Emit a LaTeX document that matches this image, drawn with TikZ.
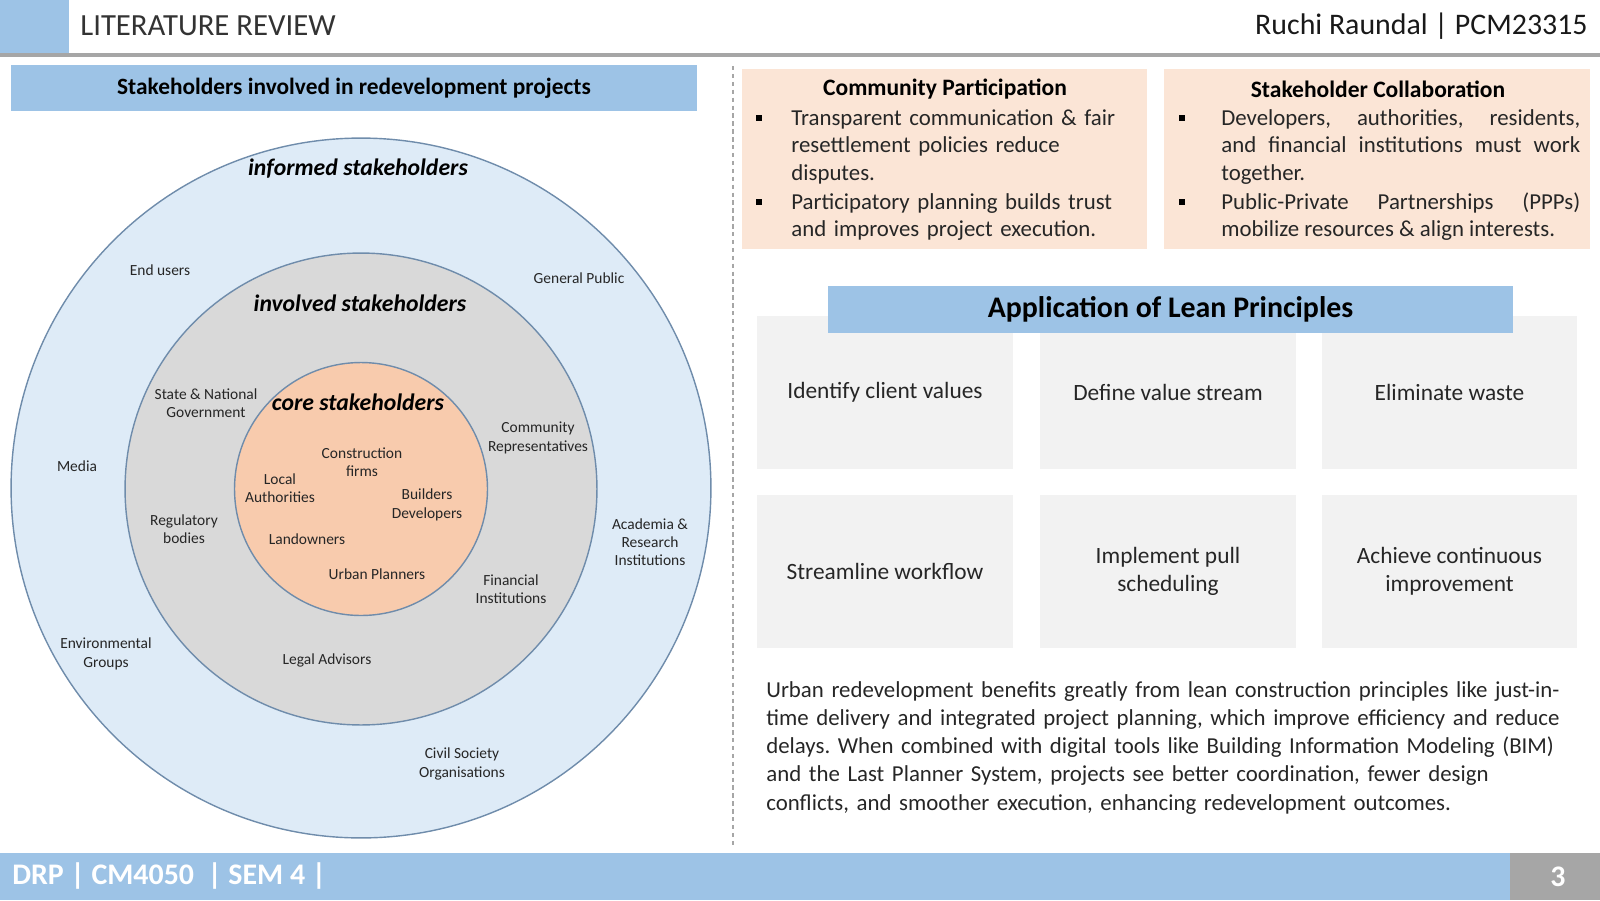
\documentclass[tikz,border=0pt]{standalone}
\usepackage{fontspec}
\setmainfont{Carlito}
\usetikzlibrary{positioning}
\frenchspacing

\definecolor{slideblue}{HTML}{9DC3E6}
\definecolor{ringblue}{HTML}{DEEBF7}
\definecolor{ringedge}{HTML}{6F8CAB}
\definecolor{ringgray}{HTML}{D9D9D9}
\definecolor{corepeach}{HTML}{F8CBAD}
\definecolor{notepeach}{HTML}{FBE5D6}
\definecolor{leangray}{HTML}{F2F2F2}
\definecolor{rulegray}{HTML}{A6A6A6}
\definecolor{inkgray}{HTML}{262626}

\begin{document}
\begin{tikzpicture}[x=0.02cm, y=-0.02cm,
    band/.style={fill=slideblue, draw=none, inner sep=0pt},
    ring/.style={circle, draw=ringedge, line width=0.8pt, inner sep=0pt},
    ringtitle/.style={font=\fontsize{13.5}{16}\selectfont\bfseries\itshape,
        text=black, inner sep=0pt},
    who/.style={font=\fontsize{8.8}{10.4}\selectfont, align=center,
        text=inkgray, inner sep=0pt},
    notebox/.style={fill=notepeach, draw=none, inner sep=0pt,
        minimum height=3.6cm},
    notetitle/.style={font=\fontsize{13.4}{16}\selectfont\bfseries,
        inner sep=0pt},
    bullettext/.style={font=\fontsize{13}{15.8}\selectfont, inner sep=0pt,
        anchor=base west, text=inkgray},
    bulletmark/.style={fill=black, inner sep=0pt, minimum width=0.11cm,
        minimum height=0.13cm},
    leanbox/.style={fill=leangray, draw=none, minimum width=5.12cm,
        minimum height=3.06cm, align=center, text=inkgray,
        font=\fontsize{13.3}{15.8}\selectfont},
    footer/.style={font=\fontsize{17}{19}\selectfont\bfseries, text=white,
        inner sep=0pt}
]
    \useasboundingbox (0,0) rectangle (1600,900);

    % header
    \node[band, anchor=north west, minimum width=1.38cm, minimum height=1.06cm]
        (head_square) at (0,0) {};
    \draw[rulegray, line width=1.8pt] (0,55) -- (1600,55);
    \node[anchor=west, inner sep=0pt, text=black!80,
        font=\fontsize{17.5}{20}\selectfont] (head_title) at (80,26)
        {LITERATURE REVIEW};
    \node[anchor=east, inner sep=0pt, text=black!90,
        font=\fontsize{17}{20}\selectfont] (head_name) at (1588,26)
        {Ruchi Raundal | PCM23315};

    % stakeholder circles
    \node[band, minimum width=13.72cm, minimum height=0.92cm,
        font=\fontsize{13.3}{15}\selectfont\bfseries] (left_title) at (354,88)
        {Stakeholders involved in redevelopment projects};
    \node[ring, fill=ringblue, minimum size=14.0cm] (ring_informed) at (361,488) {};
    \node[ring, fill=ringgray, minimum size=9.44cm] (ring_involved) at (361,489) {};
    \node[ring, fill=corepeach, minimum size=5.06cm] (ring_core) at (361,489) {};

    \node[ringtitle] (informed_title) at (358,169) {informed stakeholders};
    \node[ringtitle] (involved_title) at (360,303) {involved stakeholders};
    \node[ringtitle] (core_title) at (358,402) {core stakeholders};

    \node[who] (end_users) at (160,270) {End users};
    \node[who] (general_public) at (579,278) {General Public};
    \node[who] (media) at (77,466) {Media};
    \node[who] (academia) at (650,542) {Academia \&\\Research\\Institutions};
    \node[who] (environment) at (106,654) {Environmental\\Groups};
    \node[who] (civil_society) at (462,764) {Civil Society\\Organisations};

    \node[who] (government) at (206,403) {State \& National\\Government};
    \node[who] (community) at (538,438) {Community\\Representatives};
    \node[who] (regulatory) at (184,529) {Regulatory\\bodies};
    \node[who] (financial) at (511,589) {Financial\\Institutions};
    \node[who] (legal) at (327,660) {Legal Advisors};

    \node[who] (construction) at (362,462) {Construction\\firms};
    \node[who] (local) at (280,488) {Local\\Authorities};
    \node[who] (builders) at (427,505) {Builders\\Developers};
    \node[who] (landowners) at (307,539) {Landowners};
    \node[who] (planners) at (377,574) {Urban Planners};

    \draw[rulegray, dashed, dash pattern=on 2.5pt off 2pt, line width=0.6pt]
        (733,66) -- (733,847);

    % participation and collaboration notes
    \node[notebox, anchor=north west, minimum width=8.1cm] (note_left) at (742,69) {};
    \node[notebox, anchor=north west, minimum width=8.52cm] (note_right) at (1164,69) {};
    \node[notetitle] (note_left_title) at (945,89) {Community Participation};
    \node[notetitle] (note_right_title) at (1378,89) {Stakeholder Collaboration};

    \node[bulletmark] at (759,118) {};
    \node[bulletmark] at (759,202) {};
    \node[bullettext, text width=6.8cm, align=left] (left_item_one) at (791,125)
        {Transparent communication \& fair\\resettlement policies reduce\\disputes.};
    \node[bullettext, text width=6.8cm, align=left] (left_item_two) at (791,209)
        {Participatory planning builds trust\\and improves project execution.};

    \node[bulletmark] at (1182,118) {};
    \node[bulletmark] at (1182,202) {};
    \node[bullettext, text width=7.18cm, align=justify] (right_item_one) at (1221,125)
        {Developers, authorities, residents,\linebreak and financial institutions must work\linebreak together.};
    \node[bullettext, text width=7.18cm, align=justify] (right_item_two) at (1221,209)
        {Public-Private Partnerships (PPPs)\linebreak mobilize resources \& align interests.};

    % lean principles
    \foreach \cx/\cy/\nm/\txt in {885/392.5/identify/{Identify client values},
        1168/392.5/stream/{Define value stream},
        1449.5/392.5/waste/{Eliminate waste},
        885/571.5/workflow/{Streamline workflow},
        1168/571.5/pull/{Implement pull\\scheduling},
        1449.5/571.5/improve/{Achieve continuous\\improvement}} {
        \node[leanbox] (lean_\nm) at (\cx,\cy) {\txt};
    }
    \node[band, minimum width=13.7cm, minimum height=0.94cm,
        font=\fontsize{17}{20}\selectfont\bfseries] (lean_title) at (1170.5,309.5)
        {Application of Lean Principles};

    \node[bullettext, text width=16.2cm, align=left,
        font=\fontsize{13}{16.1}\selectfont] (lean_summary) at (766,697)
        {Urban redevelopment benefits greatly from lean construction principles like just-in-\\time delivery and integrated project planning, which improve efficiency and reduce\\delays. When combined with digital tools like Building Information Modeling (BIM)\\and the Last Planner System, projects see better coordination, fewer design\\conflicts, and smoother execution, enhancing redevelopment outcomes.};

    % footer
    \node[band, anchor=north west, minimum width=30.2cm, minimum height=0.94cm]
        (foot_bar) at (0,853) {};
    \node[fill=rulegray, anchor=north west, inner sep=0pt, minimum width=1.8cm,
        minimum height=0.94cm] (foot_page) at (1510,853) {};
    \node[footer, anchor=west] (foot_text) at (12,876) {DRP | CM4050 \ | SEM 4 |};
    \node[footer] at ([xshift=1.5pt]foot_page.center) {3};
\end{tikzpicture}
\end{document}
